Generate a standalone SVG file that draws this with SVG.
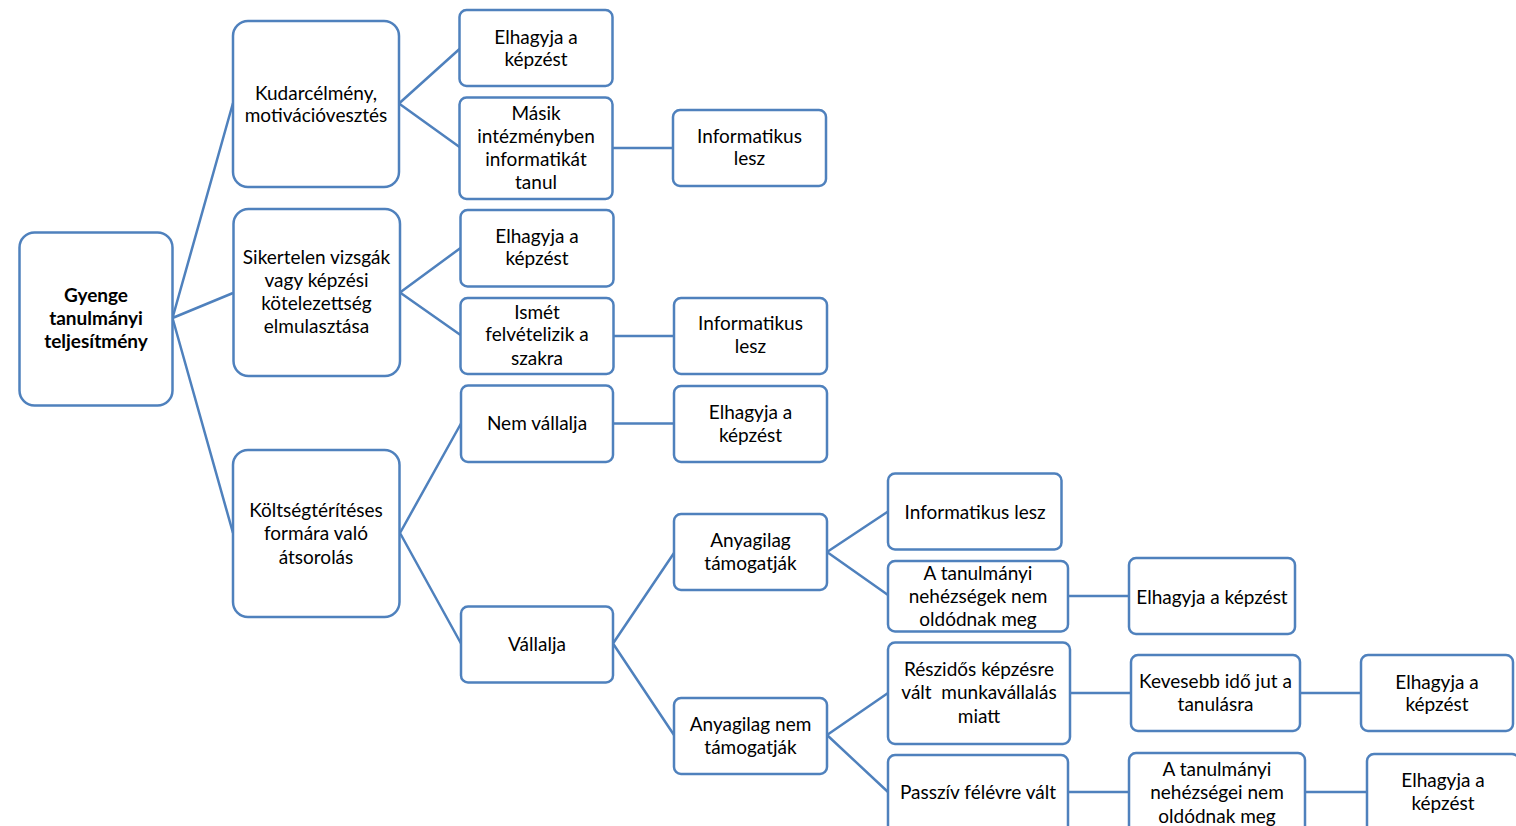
<svg xmlns="http://www.w3.org/2000/svg" width="1516" height="826" viewBox="0 0 1516 826">
<style>
.n rect{fill:#fff;stroke:#4F81BD;stroke-width:2.5}
.n text{font-family:Lato,"Open Sans","Liberation Sans",sans-serif;font-size:19px;fill:#000;text-anchor:middle}
.b text{font-weight:bold}
#connectors path{fill:none;stroke:#4F81BD;stroke-width:2.5}
</style>
<rect width="1516" height="826" fill="#fff"/>
<g id="connectors">
<path d="M172.5,318 L233,103 M172.5,318 L233,293 M172.5,318 L233,533"/>
<path d="M399,103.5 L459.5,49 M399,103.5 L459.5,147 M612,148 L673,148"/>
<path d="M400,292.5 L460.5,248 M400,292.5 L460.5,335 M613,336 L674,336"/>
<path d="M400,533 L461,423.5 M400,533 L461,643.5 M613,423.5 L674,423.5"/>
<path d="M613,643.5 L674,553 M613,643.5 L674,735"/>
<path d="M827,552 L888,511.5 M827,552 L888,595 M1068,596 L1129,596"/>
<path d="M827,735 L888,693 M827,735 L888,792 M1070,693 L1131,693 M1300,693 L1361,693"/>
<path d="M1068,792 L1129,792 M1305,792 L1367,792"/>
</g>
<g id="root" class="n b"><rect x="19.5" y="232.5" width="153" height="173" rx="15"/><text x="96" y="301.5">Gyenge</text><text x="96" y="324.5">tanulmányi</text><text x="96" y="348">teljesítmény</text></g>
<g id="kudarc" class="n"><rect x="233" y="21" width="166" height="166" rx="15"/><text x="316" y="99.5">Kudarcélmény,</text><text x="316" y="122">motivációvesztés</text></g>
<g id="sikertelen" class="n"><rect x="233.5" y="209" width="166.5" height="167" rx="15"/><text x="316.5" y="263.5">Sikertelen vizsgák</text><text x="316.5" y="286.5">vagy képzési</text><text x="316.5" y="310">kötelezettség</text><text x="316.5" y="333">elmulasztása</text></g>
<g id="koltseg" class="n"><rect x="233" y="450" width="166.5" height="167" rx="15"/><text x="316" y="517">Költségtérítéses</text><text x="316" y="540">formára való</text><text x="316" y="563.5">átsorolás</text></g>
<g id="elhagyja1" class="n"><rect x="459.5" y="10" width="153" height="76" rx="7"/><text x="536" y="43.5">Elhagyja a</text><text x="536" y="65.5">képzést</text></g>
<g id="masik" class="n"><rect x="459.5" y="97.5" width="153" height="101.5" rx="7"/><text x="536" y="119.5">Másik</text><text x="536" y="142.5">intézményben</text><text x="536" y="166">informatikát</text><text x="536" y="189">tanul</text></g>
<g id="informatikus1" class="n"><rect x="673" y="110" width="153" height="76" rx="7"/><text x="749.5" y="142.5">Informatikus</text><text x="749.5" y="165">lesz</text></g>
<g id="elhagyja2" class="n"><rect x="460.5" y="210" width="153" height="76.5" rx="7"/><text x="537" y="242.5">Elhagyja a</text><text x="537" y="265">képzést</text></g>
<g id="ismet" class="n"><rect x="460.5" y="298" width="153" height="76" rx="7"/><text x="537" y="318.5">Ismét</text><text x="537" y="341">felvételizik a</text><text x="537" y="364.5">szakra</text></g>
<g id="informatikus2" class="n"><rect x="674" y="298" width="153" height="76" rx="7"/><text x="750.5" y="330">Informatikus</text><text x="750.5" y="352.5">lesz</text></g>
<g id="nemvallalja" class="n"><rect x="461" y="385.5" width="152" height="76.5" rx="7"/><text x="537" y="430">Nem vállalja</text></g>
<g id="elhagyja3" class="n"><rect x="674" y="386" width="153" height="76" rx="7"/><text x="750.5" y="418.5">Elhagyja a</text><text x="750.5" y="441.5">képzést</text></g>
<g id="vallalja" class="n"><rect x="461" y="606.5" width="152" height="76" rx="7"/><text x="537" y="651">Vállalja</text></g>
<g id="anyagilag" class="n"><rect x="674" y="514" width="153" height="76" rx="7"/><text x="750.5" y="547">Anyagilag</text><text x="750.5" y="569.5">támogatják</text></g>
<g id="informatikus3" class="n"><rect x="888" y="473.5" width="173.5" height="76" rx="7"/><text x="975" y="518.5">Informatikus lesz</text></g>
<g id="nehezsegek" class="n"><rect x="888" y="561" width="180" height="70.5" rx="7"/><text x="978" y="579.5">A tanulmányi</text><text x="978" y="602.5">nehézségek nem</text><text x="978" y="626">oldódnak meg</text></g>
<g id="elhagyja4" class="n"><rect x="1129" y="558" width="166" height="76" rx="7"/><text x="1212" y="603.5">Elhagyja a képzést</text></g>
<g id="anyagilagnem" class="n"><rect x="674" y="698" width="153" height="76" rx="7"/><text x="750.5" y="731">Anyagilag nem</text><text x="750.5" y="753.5">támogatják</text></g>
<g id="reszidos" class="n"><rect x="888" y="642.5" width="182" height="101.5" rx="7"/><text x="979" y="676">Részidős képzésre</text><text x="979" y="699" xml:space="preserve">vált  munkavállalás</text><text x="979" y="722.5">miatt</text></g>
<g id="kevesebb" class="n"><rect x="1131" y="655" width="169" height="76" rx="7"/><text x="1215.5" y="688">Kevesebb idő jut a</text><text x="1215.5" y="711">tanulásra</text></g>
<g id="elhagyja5" class="n"><rect x="1361" y="655" width="152" height="76" rx="7"/><text x="1437" y="688.5">Elhagyja a</text><text x="1437" y="711">képzést</text></g>
<g id="passziv" class="n"><rect x="888" y="755" width="180" height="101" rx="7"/><text x="978" y="799">Passzív félévre vált</text></g>
<g id="nehezsegei" class="n"><rect x="1129" y="753" width="176" height="101" rx="7"/><text x="1217" y="776">A tanulmányi</text><text x="1217" y="799">nehézségei nem</text><text x="1217" y="822.5">oldódnak meg</text></g>
<g id="elhagyja6" class="n"><rect x="1367" y="754" width="152" height="100" rx="7"/><text x="1443" y="787">Elhagyja a</text><text x="1443" y="810">képzést</text></g>
</svg>
